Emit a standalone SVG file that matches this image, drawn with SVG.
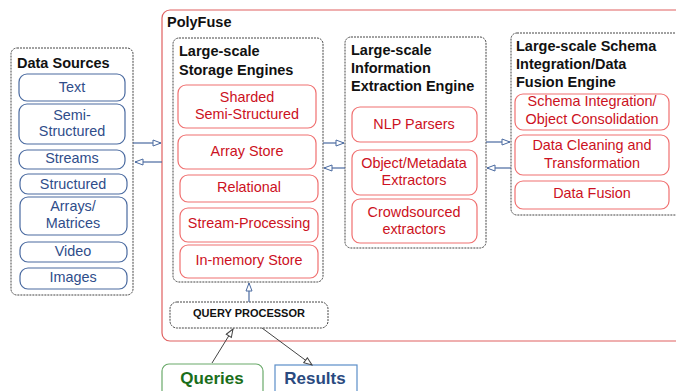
<svg xmlns="http://www.w3.org/2000/svg" width="676" height="391" viewBox="0 0 676 391">
<defs>
<style>
text{font-family:"Liberation Sans",Arial,sans-serif}
.dash{fill:#fff;stroke:#444;stroke-width:1;stroke-dasharray:2,1}
.blue{fill:#fff;stroke:#4a6aa0;stroke-width:1.2}
.red{fill:#fff;stroke:#f07070;stroke-width:1.2}
.bt{fill:#2f4d8a;font-size:14.4px;text-anchor:middle}
.rt{fill:#cc1122;font-size:14.4px;text-anchor:middle}
.title{fill:#111;font-size:14.5px;font-weight:bold}
.conn{stroke:#4a6aa0;stroke-width:1.2;fill:none}
.conk{stroke:#444;stroke-width:1;fill:none}
</style>
<marker id="ah" markerWidth="10" markerHeight="8" refX="9" refY="4" orient="auto" markerUnits="userSpaceOnUse">
<path d="M1,1 L9,4 L1,7 Z" fill="#fff" stroke="#4a6aa0" stroke-width="1"/>
</marker>
<marker id="ak" markerWidth="10" markerHeight="8" refX="9" refY="4" orient="auto" markerUnits="userSpaceOnUse">
<path d="M1,1 L9,4 L1,7 Z" fill="#fff" stroke="#444" stroke-width="1"/>
</marker>
</defs>
<rect width="676" height="391" fill="#fff"/>

<g id="polyfuse">
<rect x="162" y="10" width="530" height="331" rx="8" fill="#fff" stroke="#e06060" stroke-width="1.2"/>
<text x="167" y="27" class="title">PolyFuse</text>
</g>

<g id="data-sources">
<rect class="dash" x="11" y="48" width="122" height="247" rx="6"/>
<text x="17" y="68" class="title">Data Sources</text>
</g>
<g id="ds-text"><rect class="blue" x="19" y="74" width="106" height="27" rx="8"/><text x="72" y="92" class="bt">Text</text></g>
<g id="ds-semi"><rect class="blue" x="19" y="104" width="106" height="40" rx="8"/><text x="72" y="120" class="bt">Semi-</text><text x="72" y="136" class="bt">Structured</text></g>
<g id="ds-streams"><rect class="blue" x="19" y="150" width="106" height="19" rx="8"/><text x="72" y="163" class="bt">Streams</text></g>
<g id="ds-structured"><rect class="blue" x="20" y="174" width="107" height="20" rx="8"/><text x="73" y="189" class="bt">Structured</text></g>
<g id="ds-arrays"><rect class="blue" x="20" y="197" width="107" height="38" rx="8"/><text x="73" y="211" class="bt">Arrays/</text><text x="73" y="228" class="bt">Matrices</text></g>
<g id="ds-video"><rect class="blue" x="20" y="242" width="107" height="20" rx="8"/><text x="73" y="256" class="bt">Video</text></g>
<g id="ds-images"><rect class="blue" x="20" y="268" width="107" height="21" rx="8"/><text x="73" y="282" class="bt">Images</text></g>

<g id="storage">
<rect class="dash" x="173" y="38" width="150" height="244" rx="6"/>
<text x="179" y="56" class="title">Large-scale</text>
<text x="179" y="75" class="title">Storage Engines</text>
</g>
<g id="st-sharded"><rect class="red" x="178" y="85" width="138" height="43" rx="8"/><text x="247" y="102" class="rt">Sharded</text><text x="247" y="119" class="rt">Semi-Structured</text></g>
<g id="st-array"><rect class="red" x="178" y="135" width="138" height="34" rx="8"/><text x="247" y="156" class="rt">Array Store</text></g>
<g id="st-relational"><rect class="red" x="180" y="175" width="138" height="27" rx="8"/><text x="249" y="192" class="rt">Relational</text></g>
<g id="st-stream"><rect class="red" x="180" y="208" width="138" height="34" rx="8"/><text x="249" y="228" class="rt">Stream-Processing</text></g>
<g id="st-inmem"><rect class="red" x="180" y="245" width="138" height="33" rx="8"/><text x="249" y="265" class="rt">In-memory Store</text></g>

<g id="info">
<rect class="dash" x="345" y="37" width="141" height="211" rx="6"/>
<text x="351" y="55" class="title">Large-scale</text>
<text x="351" y="73" class="title">Information</text>
<text x="351" y="91" class="title">Extraction Engine</text>
</g>
<g id="ie-nlp"><rect class="red" x="352" y="107" width="125" height="35" rx="8"/><text x="414" y="129" class="rt">NLP Parsers</text></g>
<g id="ie-object"><rect class="red" x="352" y="150" width="125" height="45" rx="8"/><text x="414" y="168" class="rt">Object/Metadata</text><text x="414" y="185" class="rt">Extractors</text></g>
<g id="ie-crowd"><rect class="red" x="352" y="199" width="125" height="44" rx="8"/><text x="414" y="217" class="rt">Crowdsourced</text><text x="414" y="234" class="rt">extractors</text></g>

<g id="schema">
<rect class="dash" x="511" y="33" width="180" height="182" rx="6"/>
<text x="516" y="51" class="title">Large-scale Schema</text>
<text x="516" y="69" class="title">Integration/Data</text>
<text x="516" y="87" class="title">Fusion Engine</text>
</g>
<g id="sc-integration"><rect class="red" x="515" y="94" width="154" height="36" rx="8"/><text x="592" y="106" class="rt">Schema Integration/</text><text x="592" y="124" class="rt">Object Consolidation</text></g>
<g id="sc-cleaning"><rect class="red" x="515" y="135" width="154" height="40" rx="8"/><text x="592" y="150" class="rt">Data Cleaning and</text><text x="592" y="168" class="rt">Transformation</text></g>
<g id="sc-fusion"><rect class="red" x="515" y="181" width="154" height="28" rx="8"/><text x="592" y="198" class="rt">Data Fusion</text></g>

<g id="query-processor">
<rect class="dash" x="170" y="302" width="158" height="26" rx="7"/>
<text x="249" y="317" text-anchor="middle" font-size="11" font-weight="bold" fill="#111">QUERY PROCESSOR</text>
</g>

<g id="queries">
<rect x="162" y="364" width="101" height="40" rx="7" fill="#fff" stroke="#6aaa6a" stroke-width="1.2"/>
<text x="212" y="384" text-anchor="middle" font-size="17" font-weight="bold" fill="#1a6e1a">Queries</text>
</g>
<g id="results">
<rect x="275" y="365" width="82" height="40" fill="#fff" stroke="#5b8ec8" stroke-width="1.2"/>
<text x="315" y="384" text-anchor="middle" font-size="17" font-weight="bold" fill="#2a4a80">Results</text>
</g>

<g id="connectors">
<line class="conn" x1="133" y1="143" x2="161" y2="143" marker-end="url(#ah)"/>
<line class="conn" x1="162" y1="162" x2="135" y2="162" marker-end="url(#ah)"/>
<line class="conn" x1="323" y1="143" x2="344" y2="143" marker-end="url(#ah)"/>
<line class="conn" x1="345" y1="168" x2="324" y2="168" marker-end="url(#ah)"/>
<line class="conn" x1="486" y1="142" x2="510" y2="142" marker-end="url(#ah)"/>
<line class="conn" x1="511" y1="168" x2="487" y2="168" marker-end="url(#ah)"/>
<line class="conn" x1="249" y1="302" x2="249" y2="283" marker-end="url(#ah)"/>
<line class="conk" x1="212" y1="363" x2="233" y2="329" marker-end="url(#ak)"/>
<line class="conk" x1="262" y1="328" x2="312" y2="365" marker-end="url(#ak)"/>
</g>
</svg>
